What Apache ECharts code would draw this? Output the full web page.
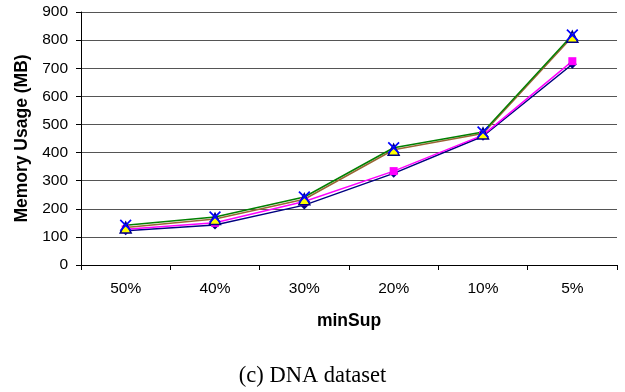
<!DOCTYPE html>
<html>
<head>
<meta charset="utf-8">
<script src="https://cdn.jsdelivr.net/npm/echarts@6/dist/echarts.min.js"></script>
<style>
  html, body { margin: 0; padding: 0; background: #fff; }
  #chart { width: 625px; height: 392px; }
</style>
</head>
<body>
<div id="chart"></div>
<script>
// 数据
const categories = ['50%', '40%', '30%', '20%', '10%', '5%'];
const yTicks = [0, 100, 200, 300, 400, 500, 600, 700, 800, 900];
const diamondVals = [122, 142, 213, 326, 458, 714];
const squareVals = [127, 150, 226, 334, 462, 725];
const triangleVals = [133, 164, 234, 410, 468, 812];
const crossVals = [141, 171, 242, 417, 473, 818];

const crossPath = 'path://M0,1L1,0L5,4L9,0L10,1L6,5L10,9L9,10L5,6L1,10L0,9L4,5Z';

const myChart = echarts.init(document.getElementById('chart'));

const makeLine = (data, lineColor, symbol, size, fill, border) => ({
    type: 'line',
    data: data,
    symbol: symbol,
    symbolSize: size,
    showAllSymbol: true,
    lineStyle: { color: lineColor, width: 1.5 },
    itemStyle: { color: fill, borderColor: border, borderWidth: border ? 1.5 : 0 },
    emphasis: { disabled: true },
});

myChart.setOption({
    animation: false,
    grid: { left: 81, right: 8, top: 12, bottom: 127 },
    title: {
        text: '(c) DNA dataset',
        left: 'center',
        top: 360,
        textStyle: { fontFamily: 'Liberation Serif', fontSize: 22.5, fontWeight: 'normal', color: '#000' },
    },
    xAxis: {
        type: 'category',
        data: categories,
        boundaryGap: true,
        name: 'minSup',
        nameLocation: 'middle',
        nameGap: 47,
        nameTextStyle: { fontFamily: 'Liberation Sans', fontSize: 17.5, fontWeight: 'bold', color: '#000' },
        axisLine: { lineStyle: { color: '#000', width: 1 } },
        axisTick: { show: true, inside: false, length: 5, lineStyle: { color: '#000' } },
        axisLabel: { fontFamily: 'Liberation Sans', fontSize: 15.5, color: '#000', margin: 16 },
        splitLine: { show: false },
    },
    yAxis: {
        type: 'value',
        min: yTicks[0],
        max: yTicks[yTicks.length - 1],
        interval: 100,
        name: 'Memory Usage (MB)',
        nameLocation: 'middle',
        nameGap: 49,
        nameTextStyle: { fontFamily: 'Liberation Sans', fontSize: 17.5, fontWeight: 'bold', color: '#000' },
        axisLine: { show: true, lineStyle: { color: '#000', width: 1 } },
        axisTick: { show: true, inside: false, length: 5, lineStyle: { color: '#000' } },
        axisLabel: { fontFamily: 'Liberation Sans', fontSize: 15.5, color: '#000', margin: 13 },
        splitLine: { show: true, lineStyle: { color: '#555', width: 1 } },
    },
    series: [
        makeLine(diamondVals, '#000080', 'diamond', 9, '#000080'),
        makeLine(squareVals, '#FF00FF', 'rect', 8, '#FF00FF'),
        makeLine(triangleVals, '#996633', 'triangle', 11, '#FFFF00', '#000080'),
        makeLine(crossVals, '#008000', crossPath, 12, '#0000FF'),
    ],
});
</script>
</body>
</html>
